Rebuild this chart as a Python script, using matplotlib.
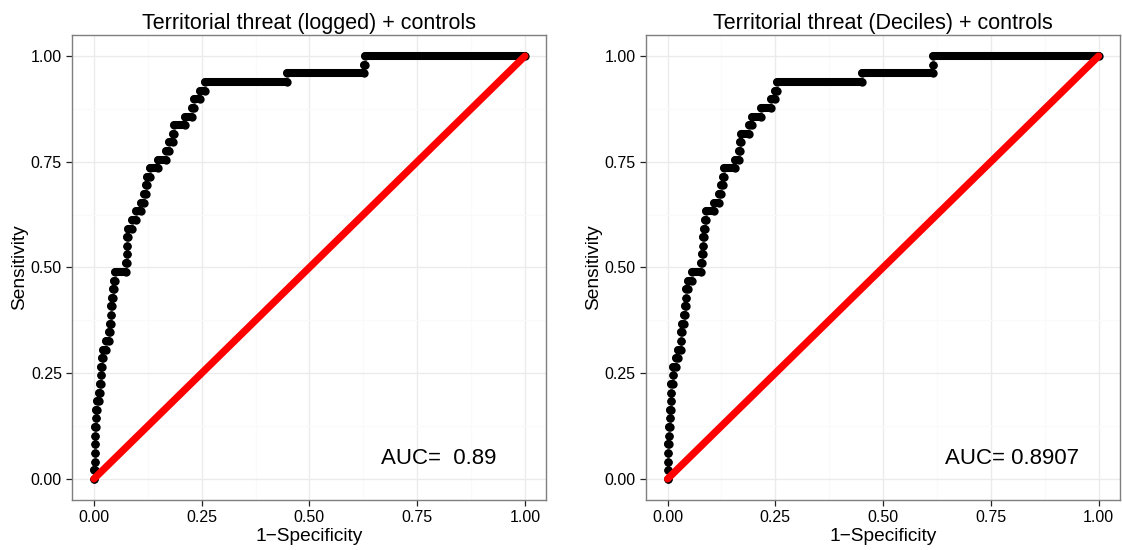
import matplotlib
matplotlib.use('Agg')
import matplotlib.pyplot as plt
from matplotlib.collections import LineCollection
from matplotlib.ticker import MultipleLocator

plt.rcParams['font.family'] = ['Liberation Sans', 'DejaVu Sans']

# sensitivity levels of the ROC steps (49 positive cases)
sensitivity = [0.000, 0.020, 0.041, 0.061, 0.082, 0.102, 0.122, 0.143, 0.163, 0.184,
               0.204, 0.224, 0.245, 0.265, 0.286, 0.306, 0.327, 0.347, 0.367, 0.388,
               0.408, 0.429, 0.449, 0.469, 0.490, 0.510, 0.531, 0.551, 0.571, 0.592,
               0.612, 0.633, 0.653, 0.673, 0.694, 0.714, 0.735, 0.755, 0.776, 0.796,
               0.816, 0.837, 0.857, 0.878, 0.898, 0.918, 0.939, 0.959, 0.980, 1.000]

# 1-specificity at which each sensitivity level is reached
fpr_logged = [0.000, 0.000, 0.002, 0.002, 0.002, 0.003, 0.003, 0.004, 0.005, 0.008,
              0.011, 0.014, 0.016, 0.016, 0.019, 0.022, 0.028, 0.035, 0.037, 0.039,
              0.040, 0.042, 0.045, 0.047, 0.050, 0.075, 0.076, 0.076, 0.077, 0.080,
              0.089, 0.097, 0.110, 0.117, 0.120, 0.123, 0.130, 0.148, 0.168, 0.175,
              0.183, 0.185, 0.211, 0.227, 0.233, 0.247, 0.257, 0.449, 0.627, 0.628]

fpr_deciles = [0.000, 0.0015, 0.0015, 0.0015, 0.002, 0.003, 0.003, 0.005, 0.005, 0.007,
               0.009, 0.009, 0.012, 0.012, 0.019, 0.025, 0.030, 0.031, 0.033, 0.039,
               0.041, 0.042, 0.043, 0.048, 0.056, 0.077, 0.079, 0.081, 0.083, 0.084,
               0.086, 0.088, 0.108, 0.119, 0.125, 0.128, 0.132, 0.156, 0.166, 0.169,
               0.170, 0.190, 0.195, 0.217, 0.241, 0.250, 0.254, 0.450, 0.615, 0.616]

titles = ['Territorial threat (logged) + controls', 'Territorial threat (Deciles) + controls']
auc_labels = ['AUC=  0.89', 'AUC= 0.8907']
ticks = [0.0, 0.25, 0.5, 0.75, 1.0]
tick_labels = ['0.00', '0.25', '0.50', '0.75', '1.00']

fig = plt.figure(figsize=(11.22, 5.5), dpi=100)
axes = [fig.add_axes([0.0645, 0.0909, 0.4225, 0.8455]),
        fig.add_axes([0.5758, 0.0909, 0.4225, 0.8455])]

for ax, fpr, title, auc in zip(axes, [fpr_logged, fpr_deciles], titles, auc_labels):
    ax.set_xlim(-0.05, 1.05)
    ax.set_ylim(-0.05, 1.05)
    ax.set_xticks(ticks)
    ax.set_xticklabels(tick_labels)
    ax.set_yticks(ticks)
    ax.set_yticklabels(tick_labels)
    ax.xaxis.set_minor_locator(MultipleLocator(0.125))
    ax.yaxis.set_minor_locator(MultipleLocator(0.125))
    ax.grid(which='minor', color='#FAFAFA', linewidth=1.0)
    ax.grid(which='major', color='#EBEBEB', linewidth=1.0)
    ax.set_axisbelow(True)
    ax.tick_params(which='minor', length=0)
    ax.tick_params(which='major', length=4.5, width=0.9, color='#222222',
                   labelsize=11.5, labelcolor='black', pad=3)
    for sp in ax.spines.values():
        sp.set_color('#7F7F7F')
        sp.set_linewidth(1.0)

    # horizontal runs of each sensitivity level
    ends = fpr[1:] + [1.0]
    segs = [[(x0, s), (x1, s)] for x0, x1, s in zip(fpr, ends, sensitivity)]
    ax.add_collection(LineCollection(segs, colors='black', linewidths=5.8,
                                     capstyle='round', zorder=3))
    ax.scatter(fpr, sensitivity, s=36, color='black', lw=0, zorder=3)
    ax.scatter(ends, sensitivity, s=36, color='black', lw=0, zorder=3)

    # reference diagonal
    ax.plot([0, 1], [0, 1], color='#FF0000', linewidth=5.2,
            solid_capstyle='round', zorder=4)

    ax.text(0.8, 0.047, auc, ha='center', va='center', fontsize=16)
    ax.set_title(title, fontsize=15.5, pad=4)
    ax.set_xlabel('1\u2212Specificity', fontsize=13.8, labelpad=2)
    ax.set_ylabel('Sensitivity', fontsize=13.8, labelpad=2)

fig.savefig('out.png', dpi=100, facecolor='white')
